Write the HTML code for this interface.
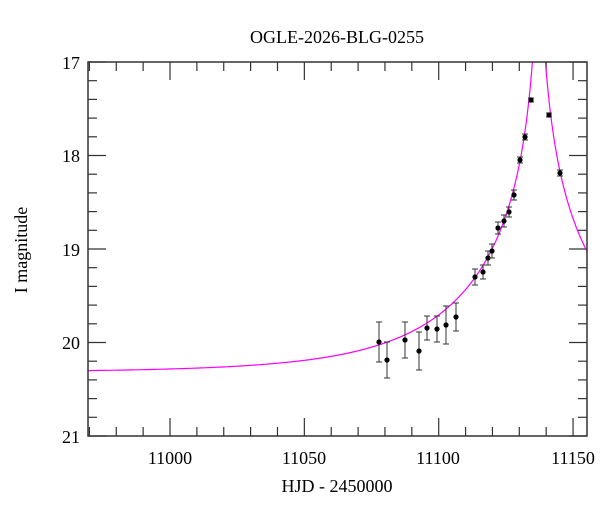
<!DOCTYPE html>
<html><head><style>
html,body{margin:0;padding:0;background:#fff;}
svg{display:block;font-family:"Liberation Serif","DejaVu Serif",serif;}
</style></head><body>
<svg id="s" width="600" height="512" viewBox="0 0 600 512" xmlns="http://www.w3.org/2000/svg">
<rect width="600" height="512" fill="#fff"/>
<text x="337" y="43" font-size="18" text-anchor="middle">OGLE-2026-BLG-0255</text>
<text x="337" y="492" font-size="18" text-anchor="middle">HJD - 2450000</text>
<text transform="translate(27,250) rotate(-90)" font-size="18" text-anchor="middle">I magnitude</text>
<g font-size="18" text-anchor="end">
<text x="80" y="69">17</text><text x="80" y="162">18</text><text x="80" y="256">19</text><text x="80" y="349">20</text><text x="80" y="443">21</text>
</g>
<g font-size="18" text-anchor="middle">
<text x="170" y="464">11000</text><text x="304" y="464">11050</text><text x="438" y="464">11100</text><text x="573" y="464">11150</text>
</g>
<g id="ax" stroke="#333" stroke-width="1.2" fill="none"></g>
<g id="curve"></g>
<g id="pts"></g>
<rect x="88" y="62" width="499" height="374" fill="none" stroke="#333" stroke-width="1.5"/>
</svg>
<script>
var L=88,R=587,T=62,B=436;
function X(t){return 170+(t-11000)*2.687;}
function Y(m){return T+(m-17)*93.5;}
var ax=document.getElementById('ax'),h='';
for(var t=10970;t<=11155;t+=10){var x=X(t);var len=(t%50==0)?18:9;
h+='<line x1="'+x+'" y1="'+B+'" x2="'+x+'" y2="'+(B-len)+'"/><line x1="'+x+'" y1="'+T+'" x2="'+x+'" y2="'+(T+len)+'"/>';}
for(var i=0;i<=20;i++){var m=17+i*0.2,y=Y(m),len=(i%5==0)?18:9;
h+='<line x1="'+L+'" y1="'+y+'" x2="'+(L+len)+'" y2="'+y+'"/><line x1="'+R+'" y1="'+y+'" x2="'+(R-len)+'" y2="'+y+'"/>';}
ax.innerHTML=h;
var t0=11137.3,tE=57,u0=0.02,base=20.32,d='';
for(var t=10969;t<=11156;t+=0.1){var u=Math.sqrt(u0*u0+Math.pow((t-t0)/tE,2));var A=(u*u+2)/(u*Math.sqrt(u*u+4));var m=base-2.5*Math.log10(A);
var y=Math.max(Y(m),T-5);d+=(d?'L':'M')+X(t).toFixed(1)+' '+y.toFixed(1);}
document.getElementById('curve').innerHTML='<clipPath id="c"><rect x="88" y="62" width="499" height="374"/></clipPath><path clip-path="url(#c)" d="'+d+'" stroke="#ff00ff" stroke-width="1.2" fill="none"/>';
var P=[[379,342,20],[387,360,18],[405,340,18],[419,351,19],[427,328,12],[437,329,13],[446,325,19],[456,317,14],[475,277,8],[483,272,7],[488,258,7],[492,251,7],[498,228,6],[504,221,6],[509,212,5],[514,195,5],[520,160,3],[525,137,3],[531,100,2],[549,115,2],[560,173,3]];
var p='';P.forEach(function(a){p+='<line x1="'+a[0]+'" y1="'+(a[1]-a[2])+'" x2="'+a[0]+'" y2="'+(a[1]+a[2])+'" stroke="#333" stroke-width="1"/><line x1="'+(a[0]-3)+'" y1="'+(a[1]-a[2])+'" x2="'+(a[0]+3)+'" y2="'+(a[1]-a[2])+'" stroke="#333"/><line x1="'+(a[0]-3)+'" y1="'+(a[1]+a[2])+'" x2="'+(a[0]+3)+'" y2="'+(a[1]+a[2])+'" stroke="#333"/><circle cx="'+a[0]+'" cy="'+a[1]+'" r="2.6" fill="#000"/>';});
document.getElementById('pts').innerHTML=p;
</script>
</body></html>
